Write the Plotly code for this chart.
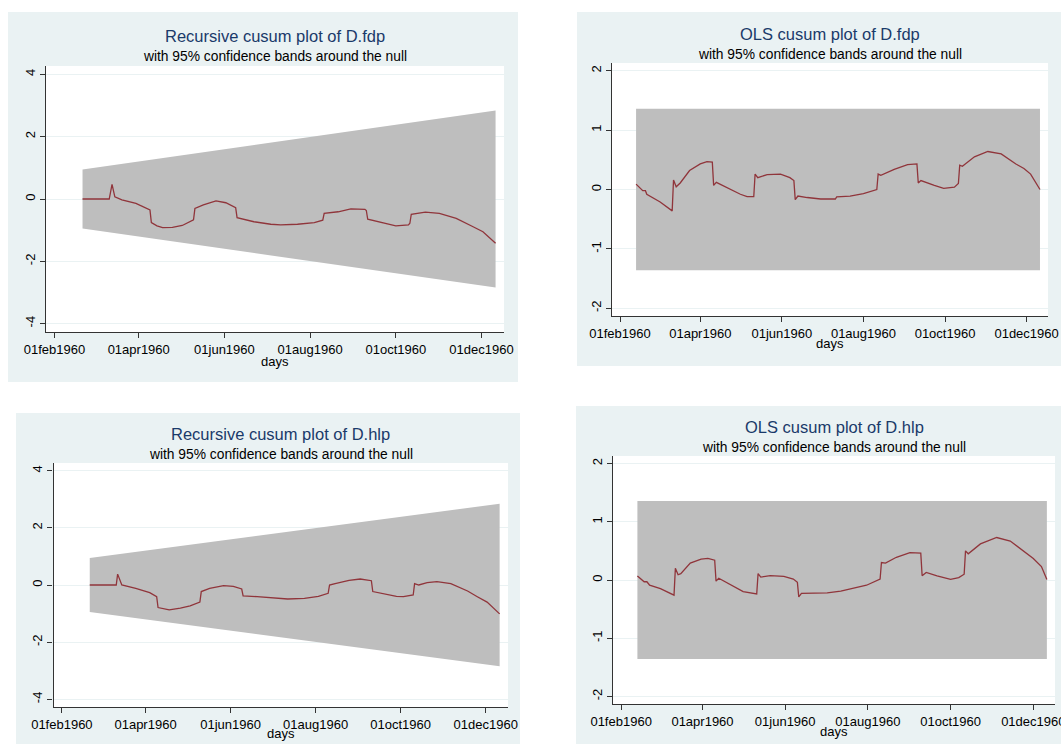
import pandas as pd
import plotly.graph_objects as go

W, H = 1061, 744
BASE = pd.Timestamp("1960-02-01")

# ---------------- data (day offsets from 01feb1960) ----------------
# Recursive cusum of D.fdp
rec_fdp_day = [20, 39, 41, 43, 48, 58, 68, 69, 73, 77, 84, 91, 99, 100, 106, 115, 122, 129, 130,
               135, 142, 154, 161, 173, 185, 191, 192, 202, 211, 221, 222, 223, 233, 243, 252, 253,
               254, 264, 274, 286, 298, 305, 314]
rec_fdp_val = [0, 0, 0.47, 0.07, -0.03, -0.14, -0.35, -0.76, -0.86, -0.92, -0.91, -0.85, -0.67, -0.30,
               -0.19, -0.06, -0.12, -0.28, -0.60, -0.66, -0.73, -0.81, -0.83, -0.81, -0.76, -0.68, -0.46,
               -0.41, -0.32, -0.33, -0.37, -0.65, -0.76, -0.86, -0.83, -0.78, -0.49, -0.42, -0.46, -0.62,
               -0.89, -1.05, -1.42]

# OLS cusum of D.fdp
ols_fdp_day = [12, 17, 19, 20, 30, 39, 40, 42, 45, 52, 60, 65, 69, 70, 72, 80, 90, 95, 100, 101, 103,
               110, 120, 127, 130, 131, 133, 140, 150, 161, 162, 172, 182, 192, 193, 195, 205, 215, 222,
               223, 225, 235, 242, 250, 253, 254, 256, 265, 275, 285, 296, 302, 307, 314]
ols_fdp_val = [0.09, -0.02, -0.02, -0.08, -0.21, -0.36, 0.16, 0.045, 0.11, 0.32, 0.43, 0.47, 0.46, 0.07,
               0.12, 0.03, -0.08, -0.12, -0.12, 0.26, 0.20, 0.25, 0.26, 0.20, 0.15, -0.17, -0.11, -0.135,
               -0.16, -0.16, -0.125, -0.11, -0.07, 0.0, 0.26, 0.24, 0.34, 0.42, 0.43, 0.11, 0.15, 0.07,
               0.02, 0.04, 0.10, 0.41, 0.39, 0.55, 0.64, 0.60, 0.43, 0.355, 0.26, 0.0]

# Recursive cusum of D.hlp
rec_hlp_day = [20, 39, 40, 43, 53, 63, 68, 69, 77, 85, 92, 99, 100, 106, 116, 123, 129, 130, 140, 150,
               162, 174, 184, 191, 192, 196, 206, 214, 222, 223, 230, 240, 245, 252, 253, 256, 262, 269,
               279, 291, 298, 305, 314]
rec_hlp_val = [0, 0, 0.38, 0, -0.12, -0.27, -0.41, -0.79, -0.87, -0.81, -0.73, -0.60, -0.23, -0.12,
               -0.02, -0.05, -0.14, -0.38, -0.41, -0.44, -0.49, -0.47, -0.40, -0.29, 0.0, 0.05, 0.16,
               0.21, 0.15, -0.23, -0.29, -0.40, -0.41, -0.35, 0.05, 0.0, 0.08, 0.12, 0.05, -0.21, -0.41,
               -0.60, -1.01]

# OLS cusum of D.hlp
ols_hlp_day = [12, 17, 19, 21, 29, 39, 40, 42, 44, 51, 59, 64, 69, 70, 72, 81, 90, 100, 101, 103, 110,
               120, 127, 130, 131, 133, 142, 152, 162, 172, 181, 191, 192, 195, 203, 213, 221, 222, 225,
               233, 243, 249, 253, 254, 256, 265, 277, 287, 297, 304, 310, 314]
ols_hlp_val = [0.07, -0.03, -0.03, -0.09, -0.15, -0.26, 0.20, 0.09, 0.11, 0.29, 0.36, 0.37, 0.34, -0.02,
               0.03, -0.09, -0.20, -0.24, 0.11, 0.05, 0.074, 0.063, 0.017, -0.04, -0.29, -0.23, -0.23,
               -0.22, -0.19, -0.14, -0.09, 0.017, 0.30, 0.29, 0.39, 0.47, 0.46, 0.074, 0.13, 0.07, 0.01,
               0.04, 0.10, 0.50, 0.45, 0.62, 0.73, 0.67, 0.49, 0.37, 0.23, 0.01]

# confidence bands
rec_band_day = [20, 314]
rec_band_upper = [0.948, 2.844]
ols_band_day = [12, 314]
ols_band_upper = [1.358, 1.358]

# axis ticks
x_tick_dates = ["1960-02-01", "1960-04-01", "1960-06-01", "1960-08-01", "1960-10-01", "1960-12-01"]
x_tick_text = ["01feb1960", "01apr1960", "01jun1960", "01aug1960", "01oct1960", "01dec1960"]
rec_y_ticks = [-4, -2, 0, 2, 4]
ols_y_ticks = [-2, -1, 0, 1, 2]

titles = ["Recursive cusum plot of D.fdp", "OLS cusum plot of D.fdp",
          "Recursive cusum plot of D.hlp", "OLS cusum plot of D.hlp"]
subtitle = "with 95% confidence bands around the null"
xtitle = "days"

for a, b in [(rec_fdp_day, rec_fdp_val), (ols_fdp_day, ols_fdp_val),
             (rec_hlp_day, rec_hlp_val), (ols_hlp_day, ols_hlp_val)]:
    assert len(a) == len(b), (len(a), len(b))


def to_dates(days):
    return [BASE + pd.Timedelta(days=int(d)) for d in days]


# ---------------- layout geometry (pixels) ----------------
FONT = "Liberation Sans, Arial, sans-serif"
PANEL_BG = "#EAF2F3"
BAND = "#BEBEBE"
LINE = "#90353B"
AXIS = "#333333"
TITLE_C = "#1A3A6A"

panels = [
    dict(bg=(8, 12, 518, 382), plot=(46, 66, 504, 332), ty=35.5, sy=56, dy=361.5),
    dict(bg=(577, 12, 1061, 366), plot=(612, 63, 1048, 316), ty=34, sy=54, dy=343.5),
    dict(bg=(16, 413, 520, 744), plot=(53.5, 463, 508, 707), ty=434, sy=454, dy=733.5),
    dict(bg=(576, 406, 1061, 744), plot=(613, 456, 1055, 704), ty=427, sy=447, dy=731.5),
]
series = [
    (rec_fdp_day, rec_fdp_val, "rec"),
    (ols_fdp_day, ols_fdp_val, "ols"),
    (rec_hlp_day, rec_hlp_val, "rec"),
    (ols_hlp_day, ols_hlp_val, "ols"),
]


def X(px):
    return px / W


def Y(py):
    return 1 - py / H


fig = go.Figure()
shapes, annotations = [], []
layout_axes = {}

for i, (p, (days, vals, kind)) in enumerate(zip(panels, series)):
    n = "" if i == 0 else str(i + 1)
    xa, ya = "x" + n, "y" + n
    if kind == "rec":
        bd, bu, yr, yt = rec_band_day, rec_band_upper, [-4.27, 4.27], rec_y_ticks
    else:
        bd, bu, yr, yt = ols_band_day, ols_band_upper, [-2.13, 2.13], ols_y_ticks
    bl = [-v for v in bu]
    fig.add_trace(go.Scatter(x=to_dates(bd), y=bl, mode="lines", line=dict(width=0, color=BAND),
                             xaxis=xa, yaxis=ya, showlegend=False, hoverinfo="skip"))
    fig.add_trace(go.Scatter(x=to_dates(bd), y=bu, mode="lines", line=dict(width=0, color=BAND),
                             fill="tonexty", fillcolor=BAND,
                             xaxis=xa, yaxis=ya, showlegend=False, hoverinfo="skip"))
    fig.add_trace(go.Scatter(x=to_dates(days), y=vals, mode="lines",
                             line=dict(width=1.3, color=LINE),
                             xaxis=xa, yaxis=ya, showlegend=False))

    bx0, by0, bx1, by1 = p["bg"]
    px0, py0, px1, py1 = p["plot"]
    shapes.append(dict(type="rect", xref="paper", yref="paper", x0=X(bx0), x1=X(bx1),
                       y0=Y(by1), y1=Y(by0), fillcolor=PANEL_BG, line=dict(width=0), layer="below"))
    shapes.append(dict(type="rect", xref="paper", yref="paper", x0=X(px0), x1=X(px1),
                       y0=Y(py1), y1=Y(py0), fillcolor="white", line=dict(width=0), layer="below"))

    layout_axes["xaxis" + n] = dict(
        domain=[X(px0), X(px1)], anchor=ya, type="date", automargin=False,
        range=["1960-01-26", "1960-12-17"], ticklabeloverflow="allow",
        tickvals=x_tick_dates, ticktext=x_tick_text,
        showline=True, linecolor=AXIS, linewidth=1.2, ticks="outside", ticklen=5,
        tickcolor=AXIS, tickwidth=1, showgrid=False, zeroline=False,
        tickfont=dict(family=FONT, size=13, color="black"))
    layout_axes["yaxis" + n] = dict(
        domain=[Y(py1), Y(py0)], anchor=xa, range=yr, tickvals=yt, automargin=False,
        ticktext=[str(t) for t in yt], tickangle=-90, ticklabeloverflow="allow",
        showline=True, linecolor=AXIS, linewidth=1.2, ticks="outside", ticklen=5,
        tickcolor=AXIS, tickwidth=1, showgrid=True, gridcolor=PANEL_BG, gridwidth=1,
        zeroline=False, tickfont=dict(family=FONT, size=13, color="black"))

    cx = X((px0 + px1) / 2)
    annotations.append(dict(text=titles[i], x=cx, y=Y(p["ty"]), xref="paper", yref="paper",
                            showarrow=False, xanchor="center", yanchor="middle",
                            font=dict(family=FONT, size=16.5, color=TITLE_C)))
    annotations.append(dict(text=subtitle, x=cx, y=Y(p["sy"]), xref="paper", yref="paper",
                            showarrow=False, xanchor="center", yanchor="middle",
                            font=dict(family=FONT, size=13.8, color="black")))
    annotations.append(dict(text=xtitle, x=cx, y=Y(p["dy"]), xref="paper", yref="paper",
                            showarrow=False, xanchor="center", yanchor="middle",
                            font=dict(family=FONT, size=13, color="black")))

fig.update_layout(
    width=W, height=H, margin=dict(l=0, r=0, t=0, b=0, pad=0), autosize=False,
    paper_bgcolor="white", plot_bgcolor="rgba(0,0,0,0)",
    shapes=shapes, annotations=annotations, showlegend=False,
    font=dict(family=FONT),
    **layout_axes,
)

fig.write_html(
    "out.html",
    config={"responsive": False, "displayModeBar": False},
    post_script="document.body.style.margin='0';document.body.style.padding='0';"
                "document.body.style.overflow='hidden';",
)
